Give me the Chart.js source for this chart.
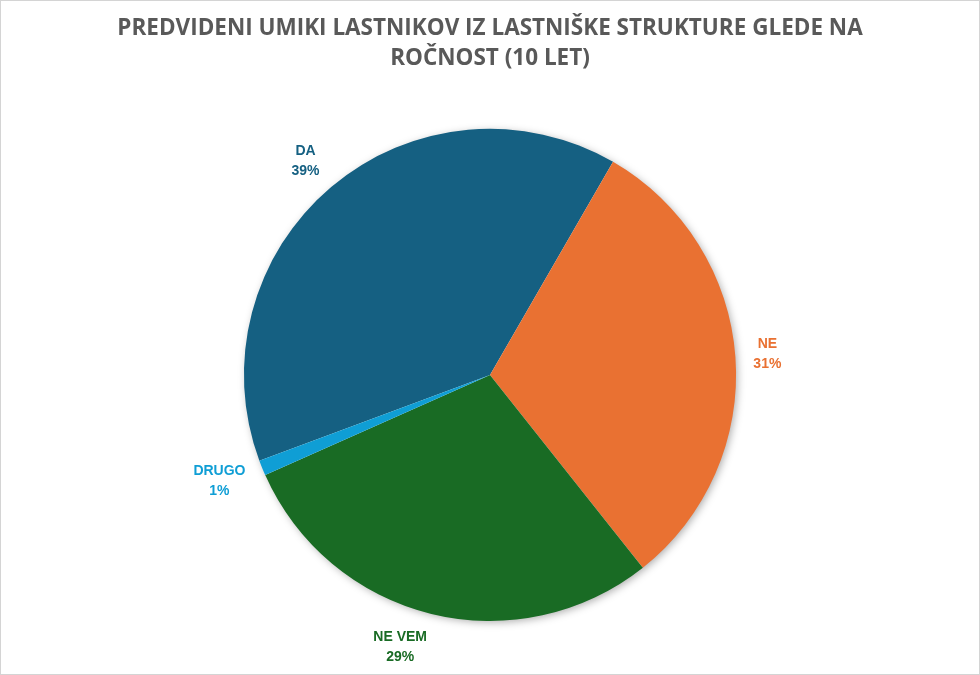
<!DOCTYPE html>
<html>
<head>
<meta charset="utf-8">
<script src="https://cdn.jsdelivr.net/npm/chart.js@4.4.1/dist/chart.umd.min.js"></script>
<style>
  html, body { margin: 0; padding: 0; background: #fff; }
  #wrap { width: 980px; height: 675px; box-sizing: border-box; border: 1px solid #d4d4d4; position: relative; }
</style>
</head>
<body>
<div id="wrap"><canvas id="pie"></canvas></div>
<script>
// podatki
var kategorije = ["DA", "NE", "NE VEM", "DRUGO"];
var deleži = [39, 31, 29, 1];
var barve = ["#156082", "#E97132", "#196B24", "#0F9ED5"];
var naslov = ["PREDVIDENI UMIKI LASTNIKOV IZ LASTNIŠKE STRUKTURE GLEDE NA", "ROČNOST (10 LET)"];

// senca pod tortnim grafom
var sencaPlugin = {
  id: "senca",
  beforeDatasetsDraw: function(chart) {
    var arc = chart.getDatasetMeta(0).data[0];
    if (!arc) return;
    var ctx = chart.ctx;
    ctx.save();
    ctx.shadowColor = "rgba(0,0,0,0.35)";
    ctx.shadowBlur = 9;
    ctx.shadowOffsetX = 2;
    ctx.shadowOffsetY = 2;
    ctx.fillStyle = "#ffffff";
    ctx.beginPath();
    ctx.arc(arc.x, arc.y, arc.outerRadius - 1, 0, Math.PI * 2);
    ctx.fill();
    ctx.restore();
  }
};

// oznake zunaj kosov
var oznakePlugin = {
  id: "oznake",
  afterDatasetsDraw: function(chart) {
    var ctx = chart.ctx;
    var meta = chart.getDatasetMeta(0);
    ctx.save();
    ctx.font = "bold 14px 'Liberation Sans', Arial, sans-serif";
    ctx.textAlign = "center";
    ctx.textBaseline = "middle";
    meta.data.forEach(function(arc, i) {
      var kot = (arc.startAngle + arc.endAngle) / 2;
      var dx = Math.cos(kot), dy = Math.sin(kot);
      var t1 = kategorije[i];
      var t2 = deleži[i] + "%";
      var hw = Math.max(ctx.measureText(t1).width, ctx.measureText(t2).width) / 2;
      var x = arc.x + dx * (arc.outerRadius + 18) + Math.sign(dx) * hw;
      var y = arc.y + dy * (arc.outerRadius + 14 + 20);
      ctx.fillStyle = barve[i];
      ctx.fillText(t1, x, y - 10);
      ctx.fillText(t2, x, y + 10);
    });
    ctx.restore();
  }
};

new Chart(document.getElementById("pie"), {
  type: "pie",
  data: {
    labels: kategorije,
    datasets: [{
      data: deleži,
      backgroundColor: barve,
      borderWidth: 0
    }]
  },
  options: {
    responsive: true,
    maintainAspectRatio: false,
    animation: false,
    rotation: -110.4,
    layout: { padding: { top: 0, bottom: 53, left: 0, right: 0 } },
    plugins: {
      legend: { display: false },
      tooltip: { enabled: false },
      title: {
        display: true,
        text: naslov,
        color: "#595959",
        font: { family: "'Open Sans'", size: 22.5, weight: "bold", lineHeight: 1.33 },
        padding: { top: 13, bottom: 55 }
      }
    }
  },
  plugins: [sencaPlugin, oznakePlugin]
});
</script>
</body>
</html>
